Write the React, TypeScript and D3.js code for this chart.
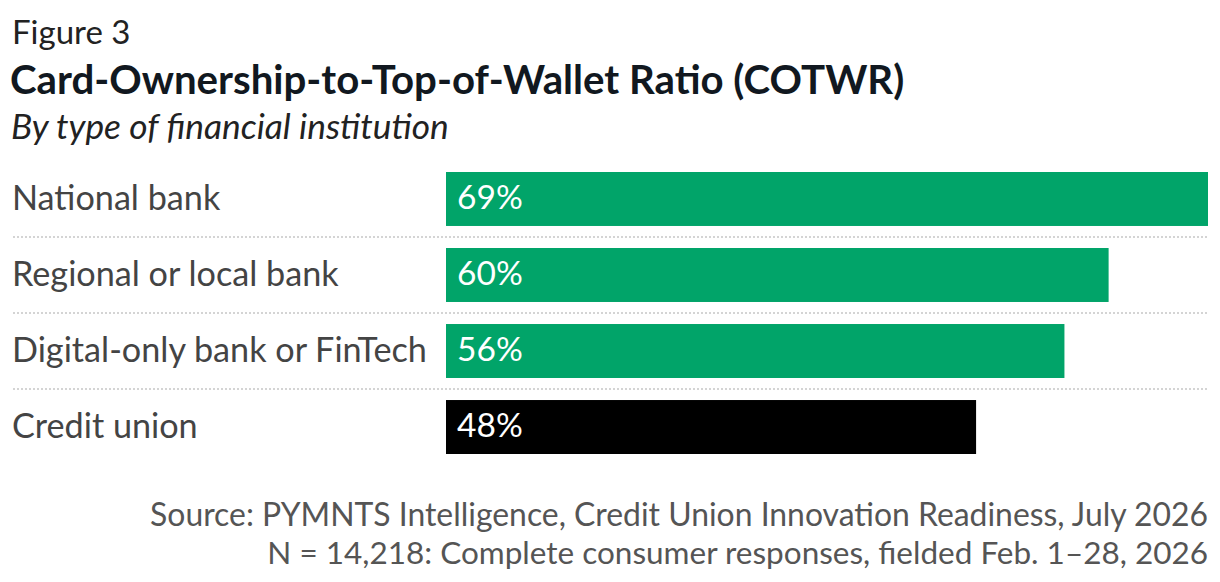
import React from "react";
import * as d3 from "d3";

const categories = ["National bank", "Regional or local bank", "Digital-only bank or FinTech", "Credit union"];
const values = [69, 60, 56, 48];
const barColors = ["#01A469", "#01A469", "#01A469", "#000000"];

const figureLabel = "Figure 3";
const title = "Card-Ownership-to-Top-of-Wallet Ratio (COTWR)";
const subtitle = "By type of financial institution";
const sourceLines = [
  "Source: PYMNTS Intelligence, Credit Union Innovation Readiness, July 2026",
  "N = 14,218: Complete consumer responses, fielded Feb. 1\u201328, 2026",
];
const sourceSizes = [31.9, 31.5];

const W = 1220;
const H = 582;
const FONT = "Lato, 'Open Sans', sans-serif";

export default function App() {
  if (typeof document !== "undefined") document.body.style.margin = "0";
  const x = d3.scaleLinear().domain([0, d3.max(values) as number]).range([446, 1208]);
  const y = d3.scaleBand<string>().domain(categories).range([172, 454]).paddingInner(0.29).paddingOuter(0);
  const bw = y.bandwidth();
  const step = y.step();

  return (
    <svg width={W} height={H} viewBox={`0 0 ${W} ${H}`} style={{ display: "block", background: "#fff" }} fontFamily={FONT}>
      <text x={12} y={44} fontSize={33} fill="#222">{figureLabel}</text>
      <text x={10} y={94} fontSize={40.2} fontWeight={700} fill="#111820">{title}</text>
      <text x={11} y={139} fontSize={35.3} fontStyle="italic" fill="#222">{subtitle}</text>

      {categories.slice(1).map((c) => {
        const yy = (y(c) as number) - (step - bw) / 2;
        return (
          <line key={"sep" + c} x1={13} x2={1208} y1={yy} y2={yy} stroke="#d4d4d4" strokeWidth={2} strokeDasharray="2,2" />
        );
      })}

      {categories.map((c, i) => {
        const top = y(c) as number;
        const cy = top + bw / 2;
        return (
          <g key={c}>
            <text x={12} y={cy} dy="0.31em" fontSize={34.2} fill="#444">{c}</text>
            <rect x={x(0)} y={top} width={x(values[i]) - x(0)} height={bw} fill={barColors[i]} />
            <text x={x(0) + 11} y={cy} dy="0.31em" fontSize={33.5} fill="#fff">{values[i]}%</text>
          </g>
        );
      })}

      {sourceLines.map((s, i) => (
        <text key={i} x={1208} y={526 + i * 38} textAnchor="end" fontSize={sourceSizes[i]} fill="#555">{s}</text>
      ))}
    </svg>
  );
}
